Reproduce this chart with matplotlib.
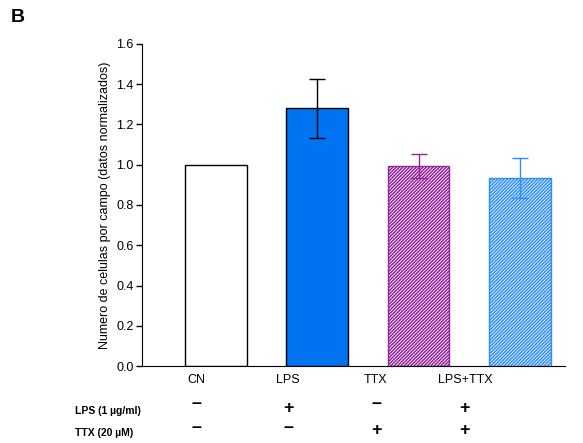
import numpy as np
import matplotlib
matplotlib.use("Agg")
import matplotlib.pyplot as plt

plt.rcParams['font.family'] = ['Liberation Sans', 'DejaVu Sans']
plt.rcParams['hatch.linewidth'] = 1.1

categories = ['CN', 'LPS', 'TTX', 'LPS+TTX']
values = [1.0, 1.28, 0.995, 0.933]
errors = [0.0, 0.147, 0.06, 0.1]
lps_signs = ['-', '+', '-', '+']
ttx_signs = ['-', '-', '+', '+']

face_colors = ['white', '#0074F0', 'white', 'white']
edge_colors = ['black', 'black', '#92239A', '#2A8CFF']
hatches = [None, None, '/' * 10, '/' * 10]
err_colors = ['black', 'black', '#92239A', '#2A8CFF']

fig = plt.figure(figsize=(5.83, 4.43), dpi=100)
ax = fig.add_axes([0.2436, 0.1738, 0.7254, 0.7269])

x = np.arange(len(categories))
for i in range(len(categories)):
    ax.bar(x[i], values[i], width=0.61, color=face_colors[i],
           edgecolor=edge_colors[i], hatch=hatches[i], linewidth=1.0, zorder=2)
    if errors[i] > 0:
        ax.errorbar(x[i], values[i], yerr=errors[i], fmt='none',
                    ecolor=err_colors[i], elinewidth=1.0, capsize=6,
                    capthick=1.0, zorder=3)

ax.set_xlim(-0.73, 3.445)
ax.set_ylim(0, 1.6)
ax.set_yticks(np.arange(0, 1.61, 0.2))
ax.set_yticklabels([f'{v:.1f}' for v in np.arange(0, 1.61, 0.2)], fontsize=9)
ax.set_xticks([])
ax.spines['top'].set_visible(False)
ax.spines['right'].set_visible(False)
ax.tick_params(axis='y', direction='out', length=4, width=1, pad=2)
ax.set_ylabel('Numero de celulas por campo (datos normalizados)', fontsize=9, labelpad=4)

# category labels and treatment rows (positions in figure pixels)
label_x = [196, 288, 376, 465]
W, H = 583, 443


def sign_text(s):
    return '\u2013' if s == '-' else s


for i, c in enumerate(categories):
    fig.text(label_x[i] / W, 1 - 380 / H, c, ha='center', va='center', fontsize=9)
    fig.text(label_x[i] / W, 1 - (404 if lps_signs[i] == '-' else 408) / H, sign_text(lps_signs[i]),
             ha='center', va='center', fontsize=13, fontweight='bold')
    fig.text(label_x[i] / W, 1 - (428 if ttx_signs[i] == '-' else 431) / H, sign_text(ttx_signs[i]),
             ha='center', va='center', fontsize=13, fontweight='bold')

fig.text(75 / W, 1 - 411 / H, 'LPS (1 \u00b5g/ml)', ha='left', va='center',
         fontsize=7.5, fontweight='bold')
fig.text(75 / W, 1 - 433 / H, 'TTX (20 \u00b5M)', ha='left', va='center',
         fontsize=7.5, fontweight='bold')
fig.text(11 / W, 1 - 17 / H, 'B', ha='left', va='center', fontsize=14, fontweight='bold')

fig.savefig('out.png', dpi=100)
